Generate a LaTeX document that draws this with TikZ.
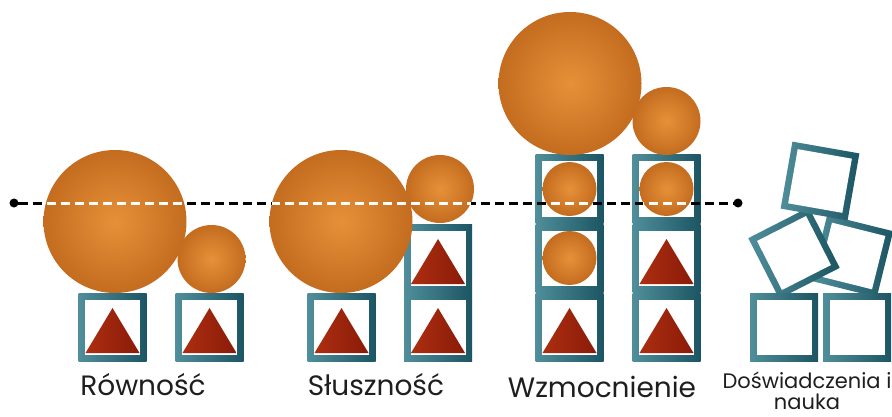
\documentclass[tikz,border=0pt]{standalone}
\usepackage{fontspec}
\setmainfont{Poppins}
\definecolor{orL}{HTML}{E69139}
\definecolor{orD}{HTML}{C46C1F}
\definecolor{tealL}{HTML}{4F8E9A}
\definecolor{tealD}{HTML}{1C5563}
\definecolor{redL}{HTML}{AC2E10}
\definecolor{redD}{HTML}{8A1B09}
\definecolor{txt}{HTML}{1E1E1E}
\tikzset{
  orb/.style={inner color=orL, outer color=orD},
  tealshade/.style={left color=tealL, right color=tealD},
  trishade/.style={left color=redL, right color=redD},
  dotnode/.style={circle, fill=black, inner sep=0pt, minimum size=9pt},
  lbl/.style={text=txt, font=\fontsize{28}{30}\selectfont, inner sep=0pt},
  smalllbl/.style={text=txt, font=\fontsize{21}{21}\selectfont, inner sep=0pt},
}
\newcommand\tbox[3][0]{%
  \begin{scope}[shift={(#2,#3)},rotate=#1]
    \shade[tealshade] (-34,-34) rectangle (34,34);
    \fill[white] (-27.5,-27.5) rectangle (27.5,27.5);
  \end{scope}}
\newcommand\ttri[2]{\shade[trishade] (#1,#2) ++(0,-19) -- ++(27,45) -- ++(-54,0) -- cycle;}
\newcommand\orbc[3]{\shade[orb] (#1,#2) circle[radius=#3pt];}
% dashes of the level line (y=203): dash 9, gap 5, from x=19 to x=738
\newcommand\blackdashes{%
  \foreach \k in {0,...,51}{%
    \pgfmathsetmacro\da{19+14*\k}%
    \pgfmathsetmacro\db{min(\da+9,738)}%
    \fill[black] (\da,201.5) rectangle (\db,204.5);
  }}
% the same dashes in white, inside the circle (cx, cy, r)
\newcommand\whitechord[3]{%
  \pgfmathsetmacro\hh{sqrt((#3)^2-(203-(#2))^2)}%
  \pgfmathsetmacro\xa{#1-\hh}%
  \pgfmathsetmacro\xb{#1+\hh}%
  \foreach \k in {0,...,51}{%
    \pgfmathsetmacro\da{max(19+14*\k,\xa)}%
    \pgfmathsetmacro\db{min(28+14*\k,\xb)}%
    \ifdim\da pt<\db pt \fill[white] (\da,201.5) rectangle (\db,204.5);\fi
  }}
\begin{document}
\begin{tikzpicture}[x=1pt,y=-1pt]
\useasboundingbox (0,0) rectangle (892,417);
% Rownosc
\tbox{112.5}{327}\ttri{112.5}{327}
\tbox{209.5}{327}\ttri{209.5}{327}
\orbc{115}{221.5}{71.5}
\orbc{211.5}{259}{34}
% Slusznosc
\tbox{341.5}{327}\ttri{341.5}{327}
\tbox{438}{327}\ttri{438}{327}
\tbox{438}{258}\ttri{438}{258}
\orbc{440}{189}{34}
\orbc{341}{221.5}{71.5}
% Wzmocnienie
\tbox{569.5}{327}\ttri{569.5}{327}
\tbox{569.5}{258}\orbc{569.5}{258}{27}
\tbox{569.5}{189}\orbc{569.5}{189}{27}
\tbox{666.5}{327}\ttri{666.5}{327}
\tbox{666.5}{258}\ttri{666.5}{258}
\tbox{666.5}{189}\orbc{666.5}{189}{27}
\orbc{570}{83.5}{71.5}
\orbc{666.5}{121}{34}
% Doswiadczenia
\tbox[-14]{852}{256}
\tbox[27]{794}{253}
\tbox[-10]{820}{181}
\tbox{784}{327}
\tbox{857}{327}
% dashed level line between the two dots
\node[dotnode] (d1) at (14,203) {};
\node[dotnode] (d2) at (738,203) {};
\fill[black] (d1.center) rectangle ++(6,1.5);
\fill[black] (d1.center) rectangle ++(6,-1.5);
\blackdashes
\whitechord{115}{221.5}{71.5}
\whitechord{341}{221.5}{71.5}
\whitechord{440}{189}{34}
\whitechord{569.5}{189}{27}
\whitechord{666.5}{189}{27}
% labels
\node[lbl, anchor=base] (t1) at (143,395) {Równość};
\node[lbl, anchor=base] (t2) at (376,395) {Słuszność};
\node[lbl, anchor=base] (t3) at (602,397) {Wzmocnienie};
\node[smalllbl, anchor=base] (t4) at (807,388) {Doświadczenia i};
\node[smalllbl, anchor=base] (t5) at (807,409) {nauka};
\end{tikzpicture}
\end{document}
